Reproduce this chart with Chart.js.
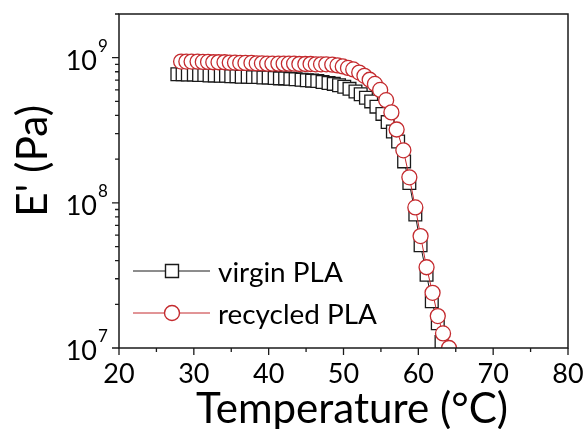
<!DOCTYPE html>
<html>
<head>
<meta charset="utf-8">
<script src="https://cdn.jsdelivr.net/npm/chart.js@4.4.1/dist/chart.umd.min.js"></script>
<style>
    body { margin: 0; background: #fff; }
    #grafico { display: block; }
</style>
</head>
<body>
<canvas id="grafico" width="585" height="429"></canvas>
<script>
// dados (E' em Pa)
var tempVirgin = [27.8, 28.5, 29.2, 30.0, 30.7, 31.4, 32.1, 32.8, 33.6, 34.3, 35.0, 35.7, 36.4, 37.2, 37.9, 38.6, 39.3, 40.0, 40.8, 41.5,
    42.2, 42.9, 43.6, 44.4, 45.1, 45.8, 46.5, 47.2, 48.0, 48.7, 49.4, 50.1, 50.8, 51.6, 52.3, 53.0, 53.7, 54.4, 55.2, 55.9,
    56.6, 57.3, 58.1, 58.8, 59.6, 60.3, 61.1, 61.8, 62.6, 63.1, 63.9];
var eVirgin = [7.7e8, 7.7e8, 7.65e8, 7.65e8, 7.6e8, 7.6e8, 7.55e8, 7.55e8, 7.5e8, 7.5e8, 7.45e8, 7.45e8, 7.4e8, 7.4e8, 7.35e8, 7.35e8, 7.3e8, 7.3e8, 7.25e8, 7.2e8,
    7.2e8, 7.15e8, 7.1e8, 7.05e8, 7.0e8, 6.95e8, 6.9e8, 6.8e8, 6.7e8, 6.6e8, 6.45e8, 6.3e8, 6.1e8, 5.85e8, 5.6e8, 5.3e8, 5.0e8, 4.6e8, 4.1e8, 3.6e8,
    3.1e8, 2.65e8, 1.93e8, 1.37e8, 8.3e7, 5.1e7, 3.2e7, 2.1e7, 1.48e7, 1.1e7, 8e6];
var tempRecycled = [28.3, 29.0, 29.7, 30.5, 31.2, 31.9, 32.6, 33.3, 34.1, 34.8, 35.5, 36.2, 36.9, 37.7, 38.4, 39.1, 39.8, 40.5, 41.3, 42.0,
    42.7, 43.4, 44.1, 44.9, 45.6, 46.3, 47.0, 47.7, 48.5, 49.2, 49.9, 50.6, 51.3, 52.1, 52.8, 53.5, 54.2, 54.9, 55.7, 56.4,
    57.1, 58.0, 58.8, 59.6, 60.3, 61.1, 61.9, 62.6, 63.3, 64.1];
var eRecycled = [9.4e8, 9.4e8, 9.4e8, 9.4e8, 9.35e8, 9.35e8, 9.3e8, 9.3e8, 9.3e8, 9.25e8, 9.25e8, 9.2e8, 9.2e8, 9.2e8, 9.15e8, 9.15e8, 9.1e8, 9.1e8, 9.1e8, 9.1e8,
    9.1e8, 9.1e8, 9.05e8, 9.05e8, 9.05e8, 9.0e8, 9.0e8, 9.0e8, 8.95e8, 8.85e8, 8.7e8, 8.5e8, 8.3e8, 7.9e8, 7.5e8, 7.05e8, 6.6e8, 6.0e8, 5.1e8, 4.2e8,
    3.2e8, 2.3e8, 1.5e8, 9.3e7, 5.9e7, 3.6e7, 2.4e7, 1.66e7, 1.26e7, 1.0e7];
var nomes = ["virgin PLA", "recycled PLA"];
var xTicks = [20, 30, 40, 50, 60, 70, 80];
var xMinor = [25, 35, 45, 55, 65, 75];
var yExpoentes = [7, 8, 9];
var tituloX = "Temperature (°C)";
var tituloY = "E' (Pa)";

var corPreta = '#1a1a1a';
var corVermelha = '#c42a2e';
var fonte = 'Lato, "Open Sans", sans-serif';

const pontos = (xs, ys) => xs.map((x, i) => ({ x: x, y: ys[i] }));

// escolhe o tamanho da fonte para o texto ocupar a largura desejada
const ajustarFonte = (ctx, texto, largura) => {
    ctx.font = '40px ' + fonte;
    let w = ctx.measureText(texto).width;
    let tam = 40 * largura / w;
    ctx.font = tam.toFixed(1) + 'px ' + fonte;
}

const desenharExtras = {
    id: 'extras',
    afterDraw(chart) {
        const ctx = chart.ctx;
        const a = chart.chartArea;
        const sx = chart.scales.x;
        const sy = chart.scales.y;
        ctx.save();
        ctx.strokeStyle = corPreta;
        ctx.fillStyle = '#000';
        ctx.lineWidth = 1.5;
        ctx.strokeRect(a.left, a.top, a.right - a.left, a.bottom - a.top);

        // ticks eixo x
        ctx.lineWidth = 1.3;
        ctx.beginPath();
        xTicks.forEach((t) => {
            let px = sx.getPixelForValue(t);
            ctx.moveTo(px, a.bottom);
            ctx.lineTo(px, a.bottom + 7);
        });
        xMinor.forEach((t) => {
            let px = sx.getPixelForValue(t);
            ctx.moveTo(px, a.bottom);
            ctx.lineTo(px, a.bottom + 4);
        });
        // ticks eixo y (log)
        yExpoentes.forEach((e) => {
            let py = sy.getPixelForValue(Math.pow(10, e));
            ctx.moveTo(a.left, py);
            ctx.lineTo(a.left - 7, py);
            for (let m = 2; m <= 9; m++) {
                let v = m * Math.pow(10, e);
                if (v > sy.max) break;
                let pm = sy.getPixelForValue(v);
                ctx.moveTo(a.left, pm);
                ctx.lineTo(a.left - 4, pm);
            }
        });
        ctx.stroke();

        // rotulos
        ctx.font = '27px ' + fonte;
        ctx.textAlign = 'center';
        ctx.textBaseline = 'alphabetic';
        xTicks.forEach((t) => {
            ctx.fillText(String(t), sx.getPixelForValue(t), a.bottom + 35);
        });
        yExpoentes.forEach((e) => {
            let py = sy.getPixelForValue(Math.pow(10, e));
            ctx.font = '27px ' + fonte;
            ctx.textAlign = 'right';
            ctx.fillText('10', a.left - 22, py + 12);
            ctx.font = '17px ' + fonte;
            ctx.textAlign = 'left';
            ctx.fillText(String(e), a.left - 21, py - 6);
        });

        // titulos
        ajustarFonte(ctx, tituloX, 312);
        ctx.textAlign = 'center';
        ctx.fillText(tituloX, 352, 423);
        ajustarFonte(ctx, tituloY, 112);
        ctx.save();
        ctx.translate(47, 161);
        ctx.rotate(-Math.PI / 2);
        ctx.fillText(tituloY, 0, 0);
        ctx.restore();

        // legenda
        const leg = [
            { y: 271, cor: corPreta, estilo: 'rect' },
            { y: 313, cor: corVermelha, estilo: 'circle' }
        ];
        leg.forEach((l, i) => {
            ctx.strokeStyle = l.cor;
            ctx.lineWidth = 1;
            ctx.beginPath();
            ctx.moveTo(133, l.y);
            ctx.lineTo(210, l.y);
            ctx.stroke();
            ctx.lineWidth = 1.4;
            ctx.fillStyle = '#fff';
            ctx.beginPath();
            if (l.estilo == 'rect') {
                ctx.rect(172 - 6.5, l.y - 6.5, 13, 13);
            } else {
                ctx.arc(172, l.y, 7.5, 0, Math.PI * 2);
            }
            ctx.fill();
            ctx.stroke();
            ctx.fillStyle = '#000';
            ajustarFonte(ctx, nomes[0], 125);
            ctx.textAlign = 'left';
            ctx.fillText(nomes[i], 218, l.y + 11);
        });
        ctx.restore();
    }
};

const ctx = document.getElementById('grafico').getContext('2d');
const chart = new Chart(ctx, {
    type: 'scatter',
    data: {
        datasets: [{
            label: nomes[0],
            data: pontos(tempVirgin, eVirgin),
            showLine: true,
            borderColor: corPreta,
            borderWidth: 1,
            pointStyle: 'rect',
            pointRadius: 9,
            pointBorderWidth: 1.3,
            pointBorderColor: corPreta,
            pointBackgroundColor: '#fff',
            order: 2
        }, {
            label: nomes[1],
            data: pontos(tempRecycled, eRecycled),
            showLine: true,
            borderColor: corVermelha,
            borderWidth: 1,
            pointStyle: 'circle',
            pointRadius: 7.5,
            pointBorderWidth: 1.3,
            pointBorderColor: corVermelha,
            pointBackgroundColor: '#fff',
            order: 1
        }]
    },
    options: {
        responsive: false,
        animation: false,
        devicePixelRatio: 1,
        layout: { autoPadding: false, padding: { left: 119, right: 17, top: 14, bottom: 81 } },
        plugins: {
            legend: { display: false },
            tooltip: { enabled: false }
        },
        scales: {
            x: {
                type: 'linear',
                display: false,
                min: 20,
                max: 80
            },
            y: {
                type: 'logarithmic',
                display: false,
                min: 1e7,
                max: 2e9
            }
        }
    },
    plugins: [desenharExtras]
});
</script>
</body>
</html>
